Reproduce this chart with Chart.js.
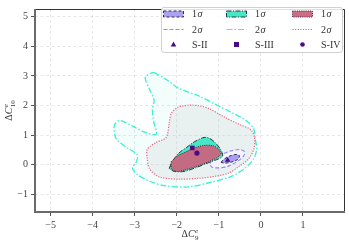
<!DOCTYPE html>
<html>
<head>
<meta charset="utf-8">
<script src="https://cdn.jsdelivr.net/npm/chart.js@4/dist/chart.umd.min.js"></script>
<style>
  html, body { margin: 0; padding: 0; background: #fff; }
</style>
</head>
<body>
<canvas id="chart" width="349" height="244"></canvas>
<script>
// tick values
const xTicks = [-5, -4, -3, -2, -1, 0, 1];
const yTicks = [-1, 0, 1, 2, 3, 4, 5];

// 2 sigma contours
const green2x = [-2.54,-2.25,-1.95,-1.47,-1.07,-0.69,-0.36,-0.17,-0.13,-0.10,-0.17,-0.36,-0.69,-1.17,-1.71,-2.25,-2.65,-2.94,-3.06,-2.96,-2.94,-3.20,-3.43,-3.48,-3.48,-3.36,-3.06,-2.73,-2.49,-2.54,-2.58,-2.54,-2.65,-2.75,-2.65];
const green2y = [3.12,2.88,2.58,2.32,2.03,1.76,1.50,1.21,0.85,0.52,0.20,-0.10,-0.39,-0.59,-0.75,-0.72,-0.56,-0.33,-0.10,0.10,0.33,0.59,0.85,1.08,1.34,1.49,1.31,1.08,1.03,1.41,1.83,2.19,2.55,2.94,3.07];
const red2x = [-1.87,-1.71,-1.47,-1.24,-0.86,-0.53,-0.24,-0.15,-0.17,-0.29,-0.53,-0.76,-1.07,-1.47,-1.95,-2.42,-2.65,-2.70,-2.70,-2.49,-2.25,-2.18,-2.13,-1.99];
const red2y = [1.98,2.01,1.99,1.90,1.60,1.37,1.18,0.92,0.52,0.20,-0.07,-0.28,-0.39,-0.46,-0.49,-0.41,-0.13,0.20,0.52,0.75,0.92,1.41,1.73,1.93];
const blue2x = [-1.21,-1.14,-0.95,-0.72,-0.50,-0.39,-0.41,-0.57,-0.81,-1.02,-1.17];
const blue2y = [0.03,0.20,0.34,0.46,0.51,0.44,0.29,0.10,-0.07,-0.11,-0.08];

// 1 sigma contours
const green1x = [-2.18,-2.11,-1.95,-1.76,-1.57,-1.35,-1.21,-1.07,-0.95,-0.91,-1.00,-1.24,-1.54,-1.83,-2.06];
const green1y = [-0.13,0.10,0.39,0.59,0.78,0.92,0.88,0.72,0.49,0.29,0.20,0.07,-0.10,-0.23,-0.23];
const red1x = [-2.13,-1.99,-1.80,-1.59,-1.35,-1.14,-1.00,-0.95,-1.05,-1.24,-1.47,-1.76,-1.99,-2.13];
const red1y = [0.10,0.29,0.42,0.56,0.65,0.64,0.52,0.36,0.23,0.10,-0.03,-0.16,-0.23,-0.13];
const blue1x = [-0.95,-0.86,-0.74,-0.62,-0.53,-0.51,-0.57,-0.72,-0.86];
const blue1y = [0.08,0.20,0.29,0.34,0.33,0.26,0.16,0.08,0.05];

// benchmark points
const pointNames = ['S-II', 'S-III', 'S-IV'];
const pointX = [-0.79, -1.63, -1.52];
const pointY = [0.15, 0.565, 0.39];

const SERIF = "'Liberation Serif', 'DejaVu Serif', serif";
const markerColor = '#4b0a86';
const pointStyles = ['triangle', 'rect', 'circle'];

// legend styling per column: blue, green, red
const fill1 = ['rgba(155,145,240,0.85)', 'rgba(60,230,196,0.95)', 'rgba(202,100,126,0.95)'];
const edge1 = ['#2d2d55', '#1d3b3b', '#4a2030'];
const dash1 = [[3, 2], [5, 1.5, 1, 1.5], [1, 1.2]];
const line2 = ['#9585f2', '#38f0d4', '#f0607c'];
const dash2 = [[4, 2], [6, 2, 1.5, 2], [1.2, 1.4]];

function pts(xs, ys) {
  const out = xs.map((x, i) => ({ x: x, y: ys[i] }));
  out.push({ x: xs[0], y: ys[0] });
  return out;
}

function contour(xs, ys, fillColor, lineColor, dash, width, order) {
  return {
    type: 'line',
    data: pts(xs, ys),
    fill: 'shape',
    backgroundColor: fillColor,
    borderColor: lineColor,
    borderDash: dash,
    borderWidth: width,
    pointRadius: 0,
    tension: 0.3,
    order: order
  };
}

const datasets = [
  contour(green2x, green2y, 'rgba(64,230,210,0.07)', line2[1], dash2[1], 1.3, 10),
  contour(red2x, red2y, 'rgba(200,198,200,0.22)', line2[2], dash2[2], 1.2, 9),
  contour(blue2x, blue2y, 'rgba(247,245,255,0.85)', line2[0], dash2[0], 1.1, 8),
  contour(green1x, green1y, fill1[1], edge1[1], dash1[1], 1, 7),
  contour(red1x, red1y, fill1[2], edge1[2], dash1[2], 1, 6),
  contour(blue1x, blue1y, fill1[0], edge1[0], dash1[0], 1, 5)
];
pointNames.forEach((name, i) => {
  datasets.push({
    type: 'line',
    label: name,
    data: [{ x: pointX[i], y: pointY[i] }],
    showLine: false,
    pointStyle: pointStyles[i],
    pointRadius: i === 2 ? 2.6 : 3.2,
    pointBackgroundColor: markerColor,
    pointBorderColor: markerColor,
    pointBorderWidth: 0,
    order: i
  });
});

function drawSigma(ctx, x, y, digit) {
  ctx.font = '10px ' + SERIF;
  ctx.fillText(digit, x, y);
  const w = ctx.measureText(digit).width;
  ctx.font = 'italic 10px ' + SERIF;
  ctx.fillText('σ', x + w + 0.5, y);
}

function drawMarker(ctx, style, cx, cy) {
  ctx.fillStyle = markerColor;
  ctx.beginPath();
  if (style === 'triangle') {
    ctx.moveTo(cx, cy - 3); ctx.lineTo(cx + 2.8, cy + 2); ctx.lineTo(cx - 2.8, cy + 2);
  } else if (style === 'rect') {
    ctx.rect(cx - 2.5, cy - 2.5, 5, 5);
  } else {
    ctx.arc(cx, cy, 2.3, 0, Math.PI * 2);
  }
  ctx.closePath();
  ctx.fill();
}

function drawCLabel(ctx, sub) {
  // ΔC with superscript e and subscript stacked
  ctx.font = '10px ' + SERIF;
  const wd = ctx.measureText('Δ').width;
  ctx.font = 'italic 10px ' + SERIF;
  const wc = ctx.measureText('C').width;
  ctx.font = '7px ' + SERIF;
  const ws = Math.max(ctx.measureText(sub).width, ctx.measureText('e').width);
  const total = wd + wc + ws + 0.5;
  let x = -total / 2;
  ctx.textAlign = 'left';
  ctx.textBaseline = 'alphabetic';
  ctx.font = '10px ' + SERIF;
  ctx.fillText('Δ', x, 3);
  x += wd;
  ctx.font = 'italic 10px ' + SERIF;
  ctx.fillText('C', x, 3);
  x += wc + 0.5;
  ctx.font = 'italic 7px ' + SERIF;
  ctx.fillText('e', x, -1);
  ctx.font = '7px ' + SERIF;
  ctx.fillText(sub, x, 6);
}

const decorations = {
  id: 'decorations',
  afterDatasetsDraw(chart) {
    const ctx = chart.ctx;
    const a = chart.chartArea;
    ctx.save();
    // frame
    ctx.setLineDash([]);
    ctx.strokeStyle = '#333';
    ctx.lineWidth = 1;
    ctx.beginPath();
    ctx.moveTo(a.left, a.top + 0.5); ctx.lineTo(a.right - 0.5, a.top + 0.5); ctx.lineTo(a.right - 0.5, a.bottom);
    ctx.stroke();
    ctx.strokeStyle = '#6a6a6a';
    ctx.lineWidth = 2;
    ctx.beginPath();
    ctx.moveTo(a.left, a.top); ctx.lineTo(a.left, a.bottom); ctx.lineTo(a.right, a.bottom);
    ctx.stroke();

    // legend
    const L = 161.5, T = 7.5, W = 181, H = 45;
    ctx.lineWidth = 1;
    ctx.strokeStyle = '#d0d0d0';
    ctx.fillStyle = 'rgba(255,255,255,0.85)';
    ctx.beginPath();
    ctx.roundRect(L, T, W, H, 2.5);
    ctx.fill();
    ctx.stroke();
    const cols = [163.5, 226.5, 292.5];
    const rows = [14, 29.5, 44.5];
    ctx.textBaseline = 'middle';
    ctx.textAlign = 'left';
    for (let i = 0; i < 3; i++) {
      const cx = cols[i];
      // 1 sigma patch
      ctx.fillStyle = fill1[i];
      ctx.fillRect(cx, rows[0] - 3, 20, 6);
      ctx.strokeStyle = edge1[i];
      ctx.lineWidth = 1;
      ctx.setLineDash(dash1[i]);
      ctx.strokeRect(cx, rows[0] - 3, 20, 6);
      // 2 sigma line
      ctx.strokeStyle = line2[i];
      ctx.lineWidth = 1.2;
      ctx.setLineDash(dash2[i]);
      ctx.beginPath();
      ctx.moveTo(cx, rows[1]); ctx.lineTo(cx + 20, rows[1]);
      ctx.stroke();
      ctx.setLineDash([]);
      // marker
      drawMarker(ctx, pointStyles[i], cx + 10, rows[2]);
      // texts
      ctx.fillStyle = '#333';
      drawSigma(ctx, cx + 28.5, rows[0] + 0.5, '1');
      drawSigma(ctx, cx + 28.5, rows[1] + 0.5, '2');
      ctx.font = '10px ' + SERIF;
      ctx.fillText(pointNames[i], cx + 28.5, rows[2] + 0.5);
    }

    // axis titles
    ctx.fillStyle = '#333';
    ctx.save();
    ctx.translate((a.left + a.right) / 2, 234);
    drawCLabel(ctx, '9');
    ctx.restore();
    ctx.save();
    ctx.translate(9, (a.top + a.bottom) / 2);
    ctx.rotate(-Math.PI / 2);
    drawCLabel(ctx, '10');
    ctx.restore();
    ctx.restore();
  }
};

function axisOptions(min, max, ticks, isY) {
  return {
    type: 'linear',
    min: min,
    max: max,
    afterBuildTicks: axis => { axis.ticks = ticks.map(v => ({ value: v })); },
    afterFit: scale => { if (isY) scale.width = 35; else scale.height = 32; },
    grid: {
      color: 'rgba(0,0,0,0.12)',
      lineWidth: 0.8,
      drawTicks: true,
      tickLength: 4,
      tickColor: '#555',
      tickWidth: 1,
      tickBorderDash: []
    },
    border: { display: false, dash: [3, 2.5] },
    ticks: {
      color: '#444',
      padding: 3,
      maxRotation: 0,
      font: { family: SERIF, size: 10 },
      callback: v => String(v).replace('-', '−')
    }
  };
}

new Chart(document.getElementById('chart'), {
  type: 'line',
  data: { datasets: datasets },
  options: {
    responsive: false,
    devicePixelRatio: 1,
    animation: false,
    layout: { padding: { top: 2, right: 2, left: 0, bottom: 0 } },
    plugins: { legend: { display: false }, tooltip: { enabled: false } },
    scales: {
      x: axisOptions(-5.37, 2.0, xTicks, false),
      y: axisOptions(-1.6, 5.26, yTicks, true)
    }
  },
  plugins: [decorations]
});
</script>
</body>
</html>
